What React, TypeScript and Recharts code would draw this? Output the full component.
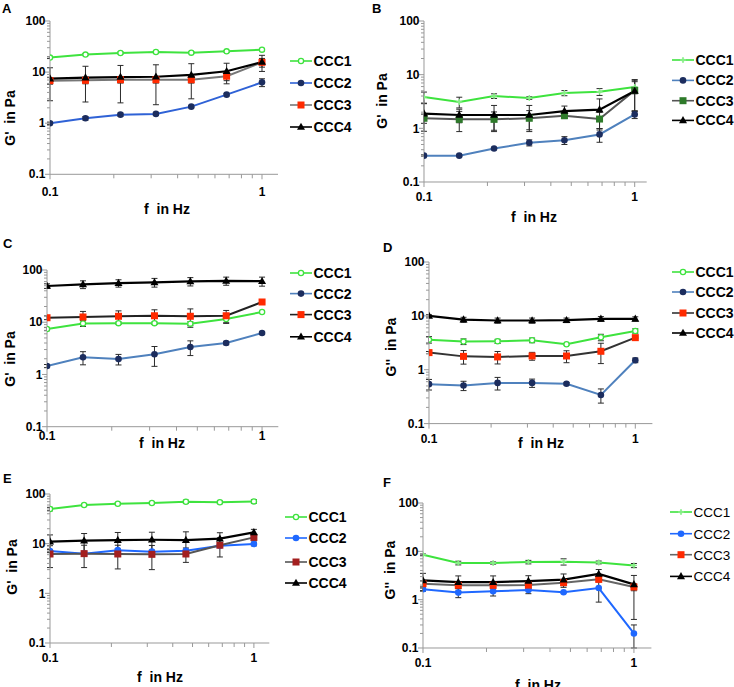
import React from 'react';
import { LineChart, Line, XAxis, YAxis, ErrorBar, Legend } from 'recharts';

const FONT = '"Liberation Sans", Arial, Helvetica, sans-serif';

// ---------- shared axis data ----------
const freq = [0.1, 0.147, 0.215, 0.316, 0.464, 0.681, 1];
const seriesNames = ['CCC1', 'CCC2', 'CCC3', 'CCC4'];
const yTicks = [0.1, 0.2, 0.3, 0.4, 0.5, 0.6, 0.7, 0.8, 0.9, 1, 2, 3, 4, 5, 6, 7, 8, 9, 10, 20, 30, 40, 50, 60, 70, 80, 90, 100];
const yTickLabels = ['0.1', '1', '10', '100'];
const xTicks = [0.1, 0.2, 0.3, 0.4, 0.5, 0.6, 0.7, 0.8, 0.9, 1];
const xTickLabels = ['0.1', '1'];

// ---------- panel A: G' ----------
const A1 = [19.2, 22, 23.7, 24.8, 24, 25.5, 27.5];
const A1e = [0.8, 1, 1, 1, 1, 1, 1.5];
const A2 = [1.0, 1.25, 1.47, 1.52, 2.11, 3.62, 6.3];
const A2e = [0.05, 0.1, 0.1, 0.1, 0.1, 0.2, 1.1];
const A3 = [6.8, 6.9, 7.1, 7.1, 7.1, 8.3, 15.5];
const A3e = [1, 1, 1, 1, 1, 1.5, 3];
const A4 = [7.45, 7.8, 8.0, 8.1, 8.8, 10.4, 15.8];
const A4e = [4.7, 5.2, 5.5, 5.8, 5.8, 4.5, 5.5];

// ---------- panel B: G' ----------
const B1 = [3.84, 3.1, 4.0, 3.67, 4.55, 4.8, 5.9];
const B1e = [0.9, 0.7, 0.4, 0.2, 0.5, 0.7, 1.5];
const B2 = [0.31, 0.31, 0.42, 0.54, 0.6, 0.77, 1.82];
const B2e = [0.01, 0.01, 0.02, 0.07, 0.1, 0.22, 0.3];
const B3 = [1.54, 1.47, 1.47, 1.54, 1.72, 1.49, 5.1];
const B3e = [0.3, 0.6, 0.55, 0.6, 0.2, 0.5, 3];
const B4 = [1.88, 1.77, 1.77, 1.77, 2.1, 2.23, 4.96];
const B4e = [1, 0.5, 0.9, 0.9, 0.5, 1.3, 2.9];

// ---------- panel C: G' ----------
const C1 = [7.4, 9.5, 9.6, 9.6, 9.4, 11.5, 15.7];
const C1e = [0.5, 1.2, 0.5, 0.5, 0.8, 2, 0.5];
const C2 = [1.45, 2.13, 1.97, 2.43, 3.35, 4.0, 6.2];
const C2e = [0.1, 0.6, 0.45, 1.0, 1.05, 0.3, 0.3];
const C3 = [12.2, 12.6, 13.0, 13.3, 13.0, 13.3, 24.4];
const C3e = [1, 3.5, 3.5, 4, 5, 3.5, 1];
const C4 = [49.4, 53, 56, 58, 60.5, 62, 61];
const C4e = [5, 9, 9, 11, 11, 11, 12];

// ---------- panel D: G'' ----------
const D1 = [3.62, 3.33, 3.37, 3.52, 2.97, 4.0, 5.25];
const D1e = [0.5, 0.4, 0.3, 0.35, 0.1, 0.55, 0.5];
const D2 = [0.54, 0.51, 0.57, 0.57, 0.55, 0.34, 1.5];
const D2e = [0.12, 0.1, 0.15, 0.1, 0.03, 0.1, 0.15];
const D3 = [2.08, 1.77, 1.73, 1.8, 1.8, 2.2, 3.94];
const D3e = [0.1, 0.5, 0.45, 0.3, 0.45, 0.9, 0.1];
const D4 = [10, 8.5, 8.2, 8.2, 8.3, 8.8, 8.8];
const D4e = [0.5, 0.9, 0.9, 0.9, 0.8, 0.9, 0.8];

// ---------- panel E: G' ----------
const E1 = [49.9, 60, 63.8, 66, 70, 68, 71];
const E1e = [4, 3, 3, 3, 5, 4, 6];
const E2 = [7.1, 6.3, 7.4, 6.9, 7.2, 9.1, 9.85];
const E2e = [0.5, 0.5, 0.5, 0.5, 0.5, 0.5, 0.8];
const E3 = [6.2, 6.3, 6.2, 6.1, 6.2, 9.3, 13.4];
const E3e = [2.9, 3, 3.1, 3.1, 2, 3.9, 2];
const E4 = [11, 11.5, 11.8, 12, 11.8, 12.6, 16.9];
const E4e = [4, 4.5, 5, 5, 5.5, 4, 2.5];

// ---------- panel F: G'' ----------
const F1 = [8.5, 5.74, 5.74, 6.0, 6.1, 5.9, 5.1];
const F1e = [0.3, 0.5, 0.3, 0.5, 0.9, 0.4, 0.5];
const F2 = [1.64, 1.4, 1.49, 1.58, 1.42, 1.74, 0.2];
const F2e = [0.1, 0.3, 0.3, 0.25, 0.05, 0.85, 0.1];
const F3 = [2.14, 1.98, 1.98, 2.0, 2.25, 2.63, 1.83];
const F3e = [0.3, 0.3, 0.3, 0.3, 0.3, 0.3, 0.3];
const F4 = [2.5, 2.3, 2.3, 2.43, 2.6, 3.4, 2.07];
const F4e: (number | number[])[] = [1, 0.8, 0.8, 0.7, 0.8, 0.8, [1.68, 1.1]];

type MarkerKind = 'open' | 'circle' | 'square' | 'triangle' | 'star';

type SeriesCfg = {
  values: number[];
  err: (number | number[])[];
  line: string;
  marker: MarkerKind;
  mcolor: string;
  lw: number;
};

type PanelCfg = {
  letter: string;
  yTitle: string;
  x0: number;
  xEnd: number;
  yTop: number;
  yBot: number;
  xMax: number;
  xLabelDy: number;
  legendX: number;
  legendYs: number[];
  legendBold: boolean;
  letterPos: [number, number];
  yTitlePos: [number, number];
  xTitlePos: [number, number];
  series: SeriesCfg[];
};

const GREEN = '#3ee33e';
const PALE_GREEN = '#86ee86';
const NAVY = '#1c2d5e';
const STEEL = '#4f81bd';
const RED = '#ff2a00';
const BLUE = '#1f68ff';

const s = (values: number[], err: (number | number[])[], line: string, marker: MarkerKind, mcolor: string, lw = 2): SeriesCfg => ({
  values, err, line, marker, mcolor, lw,
});

const panels: PanelCfg[] = [
  {
    letter: 'A', yTitle: "G'  in Pa", x0: 50, xEnd: 278, yTop: 20.7, yBot: 174, xMax: 1.19, xLabelDy: 17.7,
    legendX: 290, legendYs: [60.7, 82.7, 104.7, 126.7], legendBold: true,
    letterPos: [2, 12.5], yTitlePos: [10, 118], xTitlePos: [167, 209],
    series: [
      s(A1, A1e, GREEN, 'open', GREEN),
      s(A2, A2e, '#2f62d6', 'circle', NAVY),
      s(A3, A3e, '#777777', 'square', RED),
      s(A4, A4e, '#000000', 'triangle', '#000000', 2.2),
    ],
  },
  {
    letter: 'B', yTitle: "G'  in Pa", x0: 424.3, xEnd: 647, yTop: 20.7, yBot: 181.7, xMax: 1.14, xLabelDy: 15,
    legendX: 672, legendYs: [60.3, 80.7, 101, 120.7], legendBold: true,
    letterPos: [372, 12.5], yTitlePos: [382, 101], xTitlePos: [534, 217],
    series: [
      s(B1, B1e, GREEN, 'star', PALE_GREEN),
      s(B2, B2e, STEEL, 'circle', NAVY),
      s(B3, B3e, '#555555', 'square', '#2e7a2a'),
      s(B4, B4e, '#000000', 'triangle', '#000000', 2.2),
    ],
  },
  {
    letter: 'C', yTitle: "G'  in Pa", x0: 46.7, xEnd: 278, yTop: 270, yBot: 426.7, xMax: 1.19, xLabelDy: 9.5,
    legendX: 290, legendYs: [272.7, 293.3, 314.3, 336.5], legendBold: true,
    letterPos: [3, 248], yTitlePos: [10, 359], xTitlePos: [162, 443],
    series: [
      s(C1, C1e, GREEN, 'open', GREEN),
      s(C2, C2e, STEEL, 'circle', NAVY),
      s(C3, C3e, '#222222', 'square', RED),
      s(C4, C4e, '#000000', 'triangle', '#000000', 2.2),
    ],
  },
  {
    letter: 'D', yTitle: "G''  in Pa", x0: 429.3, xEnd: 652.7, yTop: 261.7, yBot: 423.3, xMax: 1.21, xLabelDy: 15,
    legendX: 672, legendYs: [271.7, 291.7, 312.7, 332.7], legendBold: true,
    letterPos: [383, 252], yTitlePos: [391, 347], xTitlePos: [541, 443],
    series: [
      s(D1, D1e, GREEN, 'open', GREEN),
      s(D2, D2e, STEEL, 'circle', NAVY),
      s(D3, D3e, '#333333', 'square', RED),
      s(D4, D4e, '#000000', 'triangle', '#000000', 2.2),
    ],
  },
  {
    letter: 'E', yTitle: "G'  in Pa", x0: 50, xEnd: 269.3, yTop: 494.3, yBot: 643.3, xMax: 1.19, xLabelDy: 15,
    legendX: 285, legendYs: [516.7, 537.7, 561.7, 582.7], legendBold: true,
    letterPos: [3, 483], yTitlePos: [12, 567], xTitlePos: [160, 677],
    series: [
      s(E1, E1e, GREEN, 'open', GREEN),
      s(E2, E2e, BLUE, 'circle', BLUE),
      s(E3, E3e, '#555555', 'square', '#a31f1f'),
      s(E4, E4e, '#000000', 'triangle', '#000000', 2.2),
    ],
  },
  {
    letter: 'F', yTitle: "G''  in Pa", x0: 423.3, xEnd: 651.7, yTop: 502.7, yBot: 647.7, xMax: 1.21, xLabelDy: 15,
    legendX: 670, legendYs: [512.3, 534, 555, 576.7], legendBold: false,
    letterPos: [383, 487], yTitlePos: [390, 570], xTitlePos: [538, 685],
    series: [
      s(F1, F1e, GREEN, 'star', PALE_GREEN),
      s(F2, F2e, BLUE, 'circle', BLUE),
      s(F3, F3e, '#666666', 'square', RED),
      s(F4, F4e, '#000000', 'triangle', '#000000', 2.2),
    ],
  },
];

function Marker({ kind, cx, cy, color }: { kind: MarkerKind; cx: number; cy: number; color: string }) {
  if (cx == null || cy == null || isNaN(cx) || isNaN(cy)) return null;
  switch (kind) {
    case 'open':
      return <circle cx={cx} cy={cy} r={2.6} fill="#ffffff" stroke={color} strokeWidth={1.3} />;
    case 'circle':
      return <circle cx={cx} cy={cy} r={3.3} fill={color} />;
    case 'square':
      return <rect x={cx - 3.5} y={cy - 3.5} width={7} height={7} fill={color} />;
    case 'triangle':
      return <polygon points={`${cx},${cy - 4.3} ${cx + 4},${cy + 2.8} ${cx - 4},${cy + 2.8}`} fill={color} />;
    case 'star':
      return (
        <g>
          <path d={`M${cx - 3},${cy}L${cx + 3},${cy}M${cx},${cy - 3}L${cx},${cy + 3}`} stroke={color} strokeWidth={1.3} />
          <circle cx={cx} cy={cy} r={1.7} fill={color} />
        </g>
      );
  }
  return null;
}

const near = (v: number, labels: string[]) => labels.some((l) => Math.abs(v - parseFloat(l)) < 1e-9);

function YTick(props: any) {
  const { x, y, payload } = props;
  const v = payload.value;
  const major = near(v, yTickLabels);
  return (
    <g>
      <line x1={x} x2={x - (major ? 5 : 3)} y1={y} y2={y} stroke="#999999" strokeWidth={1} />
      {major && (
        <text x={x - 4.5} y={y} dy={4.2} textAnchor="end" fontFamily={FONT} fontWeight="bold" fontSize={12} fill="#000">
          {yTickLabels.find((l) => Math.abs(parseFloat(l) - v) < 1e-9)}
        </text>
      )}
    </g>
  );
}

function XTick(props: any) {
  const { x, y, payload, labelDy } = props;
  const v = payload.value;
  const major = near(v, xTickLabels);
  return (
    <g>
      <line x1={x} x2={x} y1={y} y2={y + (major ? 5 : 4)} stroke="#999999" strokeWidth={1} />
      {major && (
        <text x={x} y={y + labelDy} dy={4.2} textAnchor="middle" fontFamily={FONT} fontWeight="bold" fontSize={12} fill="#000">
          {xTickLabels.find((l) => Math.abs(parseFloat(l) - v) < 1e-9)}
        </text>
      )}
    </g>
  );
}

function LegendBox({ cfg }: { cfg: PanelCfg }) {
  const y0 = cfg.legendYs[0];
  const h = cfg.legendYs[3] - y0 + 20;
  return (
    <svg width={120} height={h} style={{ display: 'block', overflow: 'visible' }}>
      {cfg.series.map((sr, i) => {
        const yy = cfg.legendYs[i] - y0 + 10;
        return (
          <g key={i}>
            <line x1={0} x2={22} y1={yy} y2={yy} stroke={sr.line} strokeWidth={1.6} />
            <Marker kind={sr.marker} cx={11} cy={yy} color={sr.mcolor} />
            <text x={23.5} y={yy} dy={5} fontFamily={FONT} fontWeight={cfg.legendBold ? 'bold' : 'normal'} fontSize={cfg.legendBold ? 14 : 13.5} fill="#000">
              {seriesNames[i]}
            </text>
          </g>
        );
      })}
    </svg>
  );
}

function Panel({ cfg }: { cfg: PanelCfg }) {
  const left = cfg.x0 - 45;
  const top = cfg.yTop - 12;
  const width = 734 - left;
  const height = cfg.yBot + 30 - top;
  const data = freq.map((f, i) => {
    const row: any = { f };
    cfg.series.forEach((sr, k) => {
      row['v' + k] = sr.values[i];
      row['e' + k] = sr.err[i];
    });
    return row;
  });
  return (
    <div style={{ position: 'absolute', left, top, width, height }}>
      <LineChart
        width={width}
        height={height}
        data={data}
        margin={{ top: 12, left: 5, right: width - (cfg.xEnd - left), bottom: 5 }}
      >
        <XAxis
          dataKey="f"
          type="number"
          scale="log"
          domain={[0.1, cfg.xMax]}
          allowDataOverflow
          ticks={xTicks}
          interval={0}
          tickSize={0}
          tickMargin={0}
          tickLine={false}
          axisLine={{ stroke: '#999999', strokeWidth: 1 }}
          height={25}
          tick={(p: any) => <XTick {...p} labelDy={cfg.xLabelDy} />}
        />
        <YAxis
          type="number"
          scale="log"
          domain={[0.1, 100]}
          allowDataOverflow
          ticks={yTicks}
          interval={0}
          tickSize={0}
          tickMargin={0}
          tickLine={false}
          axisLine={{ stroke: '#999999', strokeWidth: 1 }}
          width={40}
          tick={(p: any) => <YTick {...p} />}
        />
        {cfg.series.map((sr, k) => (
          <Line
            key={k}
            type="linear"
            dataKey={'v' + k}
            stroke={sr.line}
            strokeWidth={sr.lw}
            isAnimationActive={false}
            activeDot={false}
            dot={(p: any) => <Marker key={'m' + k + '_' + p.index} kind={sr.marker} cx={p.cx} cy={p.cy} color={sr.mcolor} />}
          >
            <ErrorBar dataKey={'e' + k} width={3} strokeWidth={1} stroke="#2a2a2a" direction="y" isAnimationActive={false} />
          </Line>
        ))}
        <Legend
          layout="vertical"
          align="center"
          verticalAlign="middle"
          wrapperStyle={{ left: cfg.legendX - left, top: cfg.legendYs[0] - 10 - top, width: 120 }}
          content={() => <LegendBox cfg={cfg} />}
        />
      </LineChart>
    </div>
  );
}

export default function App() {
  return (
    <div
      style={{
        position: 'absolute',
        left: 0,
        top: 0,
        width: 734,
        height: 687,
        overflow: 'hidden',
        background: '#ffffff',
        fontFamily: FONT,
      }}
    >
      {panels.map((p) => (
        <Panel key={p.letter} cfg={p} />
      ))}
      <svg width={734} height={687} style={{ position: 'absolute', left: 0, top: 0, pointerEvents: 'none' }}>
        {panels.map((p) => (
          <g key={p.letter} fontFamily={FONT} fontWeight="bold" fill="#000">
            <text x={p.letterPos[0]} y={p.letterPos[1]} fontSize={13}>
              {p.letter}
            </text>
            <text
              x={p.yTitlePos[0]}
              y={p.yTitlePos[1]}
              fontSize={14}
              textAnchor="middle"
              dominantBaseline="central"
              transform={`rotate(-90 ${p.yTitlePos[0]} ${p.yTitlePos[1]})`}
              style={{ whiteSpace: 'pre' }}
            >
              {p.yTitle}
            </text>
            <text
              x={p.xTitlePos[0]}
              y={p.xTitlePos[1]}
              fontSize={14}
              textAnchor="middle"
              dominantBaseline="central"
              style={{ whiteSpace: 'pre' }}
            >
              {'f  in Hz'}
            </text>
          </g>
        ))}
      </svg>
    </div>
  );
}
